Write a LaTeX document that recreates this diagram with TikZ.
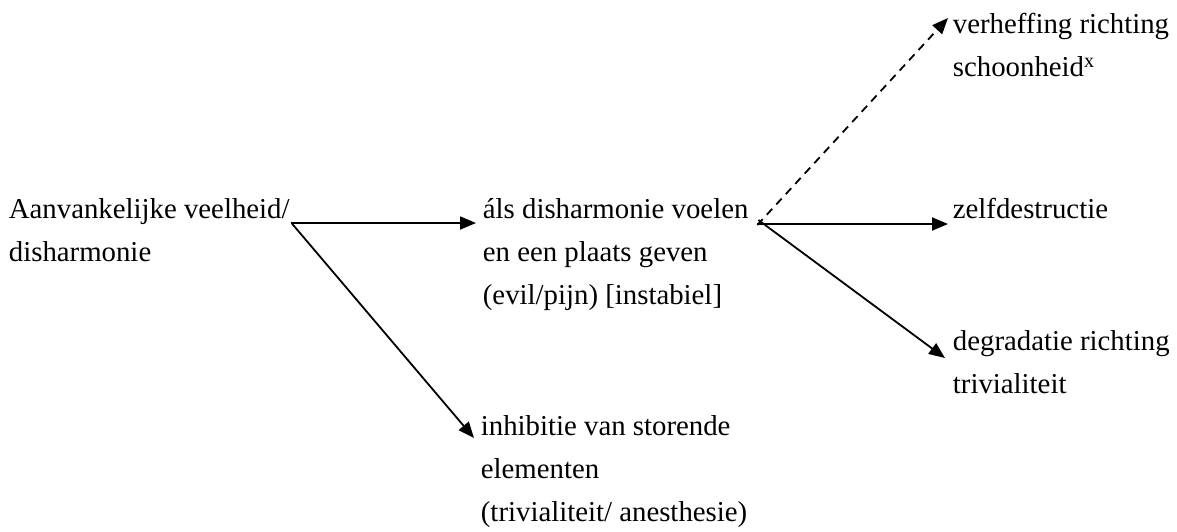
\documentclass[tikz,border=0pt]{standalone}
\usepackage{fontspec}
\setmainfont{Liberation Serif}
\usetikzlibrary{arrows.meta}

\tikzset{every picture/.style={line width=1.8pt}}
\tikzset{
	txt/.style={anchor=base west, inner sep=0pt, font=\fontsize{28.8}{43.2}\selectfont},
	pijl/.style={-{Triangle[length=16pt,width=13pt]}}
}
% lines stacked, baseline on the first line
\newcommand{\regels}[1]{\vtop{\halign{##\hfil\cr#1\crcr}}}

\begin{document}
\begin{tikzpicture}[x=1pt,y=1pt,yscale=-1,xscale=1]
	\useasboundingbox (0,0) rectangle (1177,531); %set diagram to 1177 x 531

	% Text Node
	\node[txt] (start) at (8,218) {\regels{Aanvankelijke veelheid/\cr disharmonie}};
	% Text Node
	\node[txt] (voelen) at (482,218) {\regels{áls disharmonie voelen\cr en een plaats geven\cr (evil/pijn) [instabiel]}};
	% Text Node
	\node[txt] (verheffing) at (952,33) {\regels{verheffing richting\cr schoonheid\textsuperscript{x}}};
	% Text Node
	\node[txt] (zelf) at (952,218) {zelfdestructie};
	% Text Node
	\node[txt] (degradatie) at (952,350) {\regels{degradatie richting\cr trivialiteit}};
	% Text Node
	\node[txt] (inhibitie) at (480,435) {\regels{inhibitie van storende\cr elementen\cr (trivialiteit/ anesthesie)}};

	%Straight Lines
	\draw[pijl] ([xshift=1pt,yshift=5pt]start.base east) -- ([xshift=-6pt,yshift=5pt]voelen.base west);
	\draw[pijl] ([xshift=1pt,yshift=5pt]start.base east) -- ([xshift=-6pt,yshift=3pt]inhibitie.base west);
	%Dashed Line
	\draw[pijl, dash pattern=on 8pt off 6pt] ([xshift=8pt,yshift=7pt]voelen.base east) -- ([xshift=-4pt,yshift=-15pt]verheffing.base west);
	\draw[pijl] ([xshift=8pt,yshift=6pt]voelen.base east) -- ([xshift=-4pt,yshift=6pt]zelf.base west);
	\draw[pijl] ([xshift=9pt,yshift=2pt]voelen.base east) -- ([xshift=-7pt,yshift=8pt]degradatie.base west);

\end{tikzpicture}
\end{document}
